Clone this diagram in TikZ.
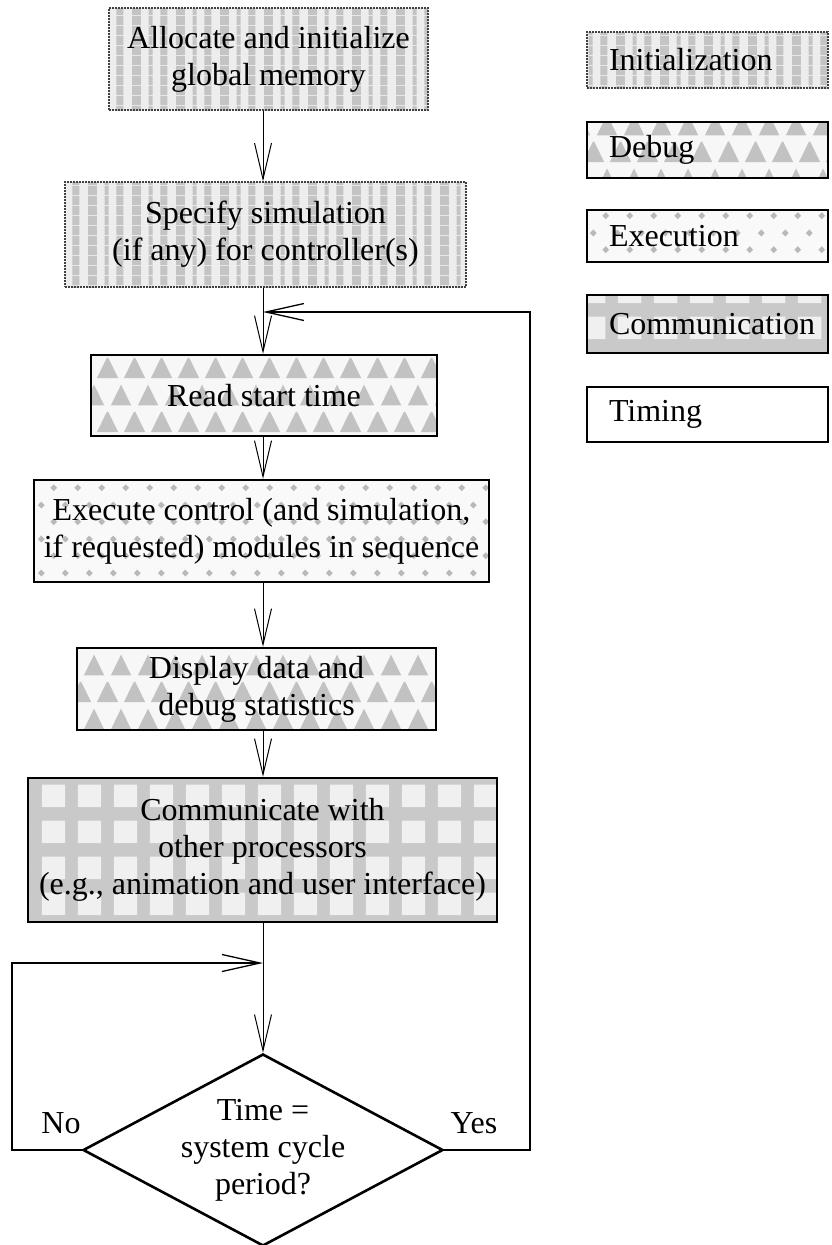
\documentclass[tikz,border=0pt]{standalone}
\usepackage{fontspec}
\setmainfont{Liberation Serif}
\usetikzlibrary{arrows.meta,shapes.geometric,patterns}

% vertical stippled bands
\pgfdeclarepatternformonly{initbands}{\pgfpointorigin}{\pgfpoint{44pt}{10pt}}{\pgfpoint{44pt}{10pt}}{
  \pgfpathrectangle{\pgfpoint{0pt}{0pt}}{\pgfpoint{9pt}{10pt}}
  \pgfpathrectangle{\pgfpoint{17pt}{0pt}}{\pgfpoint{4pt}{10pt}}
  \pgfpathrectangle{\pgfpoint{29pt}{0pt}}{\pgfpoint{7pt}{10pt}}
  \pgfusepath{fill}}
% staggered rows of triangles
\pgfdeclarepatternformonly{trirows}{\pgfpointorigin}{\pgfpoint{27pt}{54pt}}{\pgfpoint{27pt}{54pt}}{
  \pgfpathmoveto{\pgfpoint{3pt}{30pt}}\pgfpathlineto{\pgfpoint{13.5pt}{51pt}}\pgfpathlineto{\pgfpoint{24pt}{30pt}}\pgfpathclose
  \pgfpathmoveto{\pgfpoint{16.5pt}{3pt}}\pgfpathlineto{\pgfpoint{27pt}{24pt}}\pgfpathlineto{\pgfpoint{37.5pt}{3pt}}\pgfpathclose
  \pgfpathmoveto{\pgfpoint{-10.5pt}{3pt}}\pgfpathlineto{\pgfpoint{0pt}{24pt}}\pgfpathlineto{\pgfpoint{10.5pt}{3pt}}\pgfpathclose
  \pgfusepath{fill}}
% sparse small diamonds
\pgfdeclarepatternformonly{dotdiamonds}{\pgfpointorigin}{\pgfpoint{24pt}{34pt}}{\pgfpoint{24pt}{34pt}}{
  \pgfpathmoveto{\pgfpoint{6pt}{6pt}}\pgfpathlineto{\pgfpoint{9.5pt}{9.5pt}}\pgfpathlineto{\pgfpoint{6pt}{13pt}}\pgfpathlineto{\pgfpoint{2.5pt}{9.5pt}}\pgfpathclose
  \pgfpathmoveto{\pgfpoint{18pt}{23pt}}\pgfpathlineto{\pgfpoint{21.5pt}{26.5pt}}\pgfpathlineto{\pgfpoint{18pt}{30pt}}\pgfpathlineto{\pgfpoint{14.5pt}{26.5pt}}\pgfpathclose
  \pgfusepath{fill}}
% light cells of the plaid
\pgfdeclarepatternformonly{plaidcells}{\pgfpointorigin}{\pgfpoint{36pt}{36pt}}{\pgfpoint{36pt}{36pt}}{
  \pgfpathrectangle{\pgfpoint{6pt}{6pt}}{\pgfpoint{24pt}{23pt}}
  \pgfusepath{fill}}

\tikzset{
  txt/.style={font=\fontsize{32}{37}\selectfont},
  stepbox/.style={rectangle, inner sep=0pt, align=center, txt},
  keybox/.style={rectangle, inner sep=0pt, minimum width=241pt, text width=241pt,
    align=left, txt, execute at begin node={\hspace*{22pt}}},
  solidedge/.style={draw=black, line width=2.4pt},
  dotedge/.style={draw=black!75, line width=1.6pt, dash pattern=on 1.6pt off 1.4pt},
  decision/.style={diamond, aspect=1.875, inner sep=0pt, minimum width=360pt,
    minimum height=192pt, draw=black, line width=2.6pt, align=center, txt},
  initfill/.style={preaction={fill=gray!14}, pattern=initbands, pattern color=gray!46},
  debugfill/.style={preaction={fill=gray!6}, pattern=trirows, pattern color=gray!48},
  execfill/.style={preaction={fill=gray!5}, pattern=dotdiamonds, pattern color=gray!55},
  commfill/.style={preaction={fill=gray!42}, pattern=plaidcells, pattern color=gray!12},
}

\begin{document}
\begin{tikzpicture}[x=1pt, y=-1pt, line join=miter,
  flow/.style={line width=1pt, -{Straight Barb[length=36pt,width=17pt,line width=1pt]}},
  loopflow/.style={line width=2.6pt, -{Straight Barb[length=38pt,width=17pt,line width=1.3pt]}}]
\useasboundingbox (0,0) rectangle (831,1245);
\fill[white] (0,0) rectangle (831,1245);

\coordinate (sp) at (263,0);

% main sequence
\node[stepbox, initfill, dotedge, minimum width=319pt, minimum height=102pt] (b1) at (268.5,59)
  {Allocate and initialize\\global memory};
\node[stepbox, initfill, dotedge, minimum width=401pt, minimum height=105pt] (b2) at (265.5,234.5)
  {Specify simulation\\(if any) for controller(s)};
\node[stepbox, debugfill, solidedge, minimum width=346pt, minimum height=81pt] (b3) at (264,395.5)
  {Read start time};
\node[stepbox, execfill, solidedge, minimum width=455pt, minimum height=102pt] (b4) at (261.5,531)
  {Execute control (and simulation,\\if requested) modules in sequence};
\node[stepbox, debugfill, solidedge, minimum width=359pt, minimum height=82pt] (b5) at (256.5,689)
  {Display data and\\debug statistics};
\node[stepbox, commfill, solidedge, minimum width=469pt, minimum height=144pt] (b6) at (262.5,850)
  {Communicate with\\other processors\\(e.g., animation and user interface)};
\node[decision] (dec) at (263,1150) {Time =\\system cycle\\period?};

\draw[flow] (b1.south -| sp) -- (b2.north -| sp);
\draw[flow] (b2.south -| sp) -- (b3.north -| sp);
\draw[flow] (b3.south -| sp) -- (b4.north -| sp);
\draw[flow] (b4.south -| sp) -- (b5.north -| sp);
\draw[flow] (b5.south -| sp) -- (b6.north -| sp);
\draw[flow] (b6.south -| sp) -- (dec.north);

% loop-backs from the decision
\coordinate (jy) at (263,312);
\coordinate (jn) at (263,963);
\coordinate (yr) at (530,1150);
\coordinate (nl) at (12,1150);
\draw[loopflow] (dec.east) -- (yr) |- (jy);
\draw[loopflow] (dec.west) -- (nl) |- (jn);

\node[txt] (no) at (61,1123) {No};
\node[txt] (yes) at (474,1123) {Yes};

% legend
\node[keybox, initfill, dotedge, minimum height=56pt] (k1) at (707.5,60) {Initialization};
\node[keybox, debugfill, solidedge, minimum height=56pt] (k2) at (707.5,150) {Debug};
\node[keybox, execfill, solidedge, minimum height=52pt] (k3) at (707.5,236) {Execution};
\node[keybox, commfill, solidedge, minimum height=58pt] (k4) at (707.5,324) {Communication};
\node[keybox, fill=white, solidedge, minimum height=55pt] (k5) at (707.5,414.5) {Timing};
\end{tikzpicture}
\end{document}
